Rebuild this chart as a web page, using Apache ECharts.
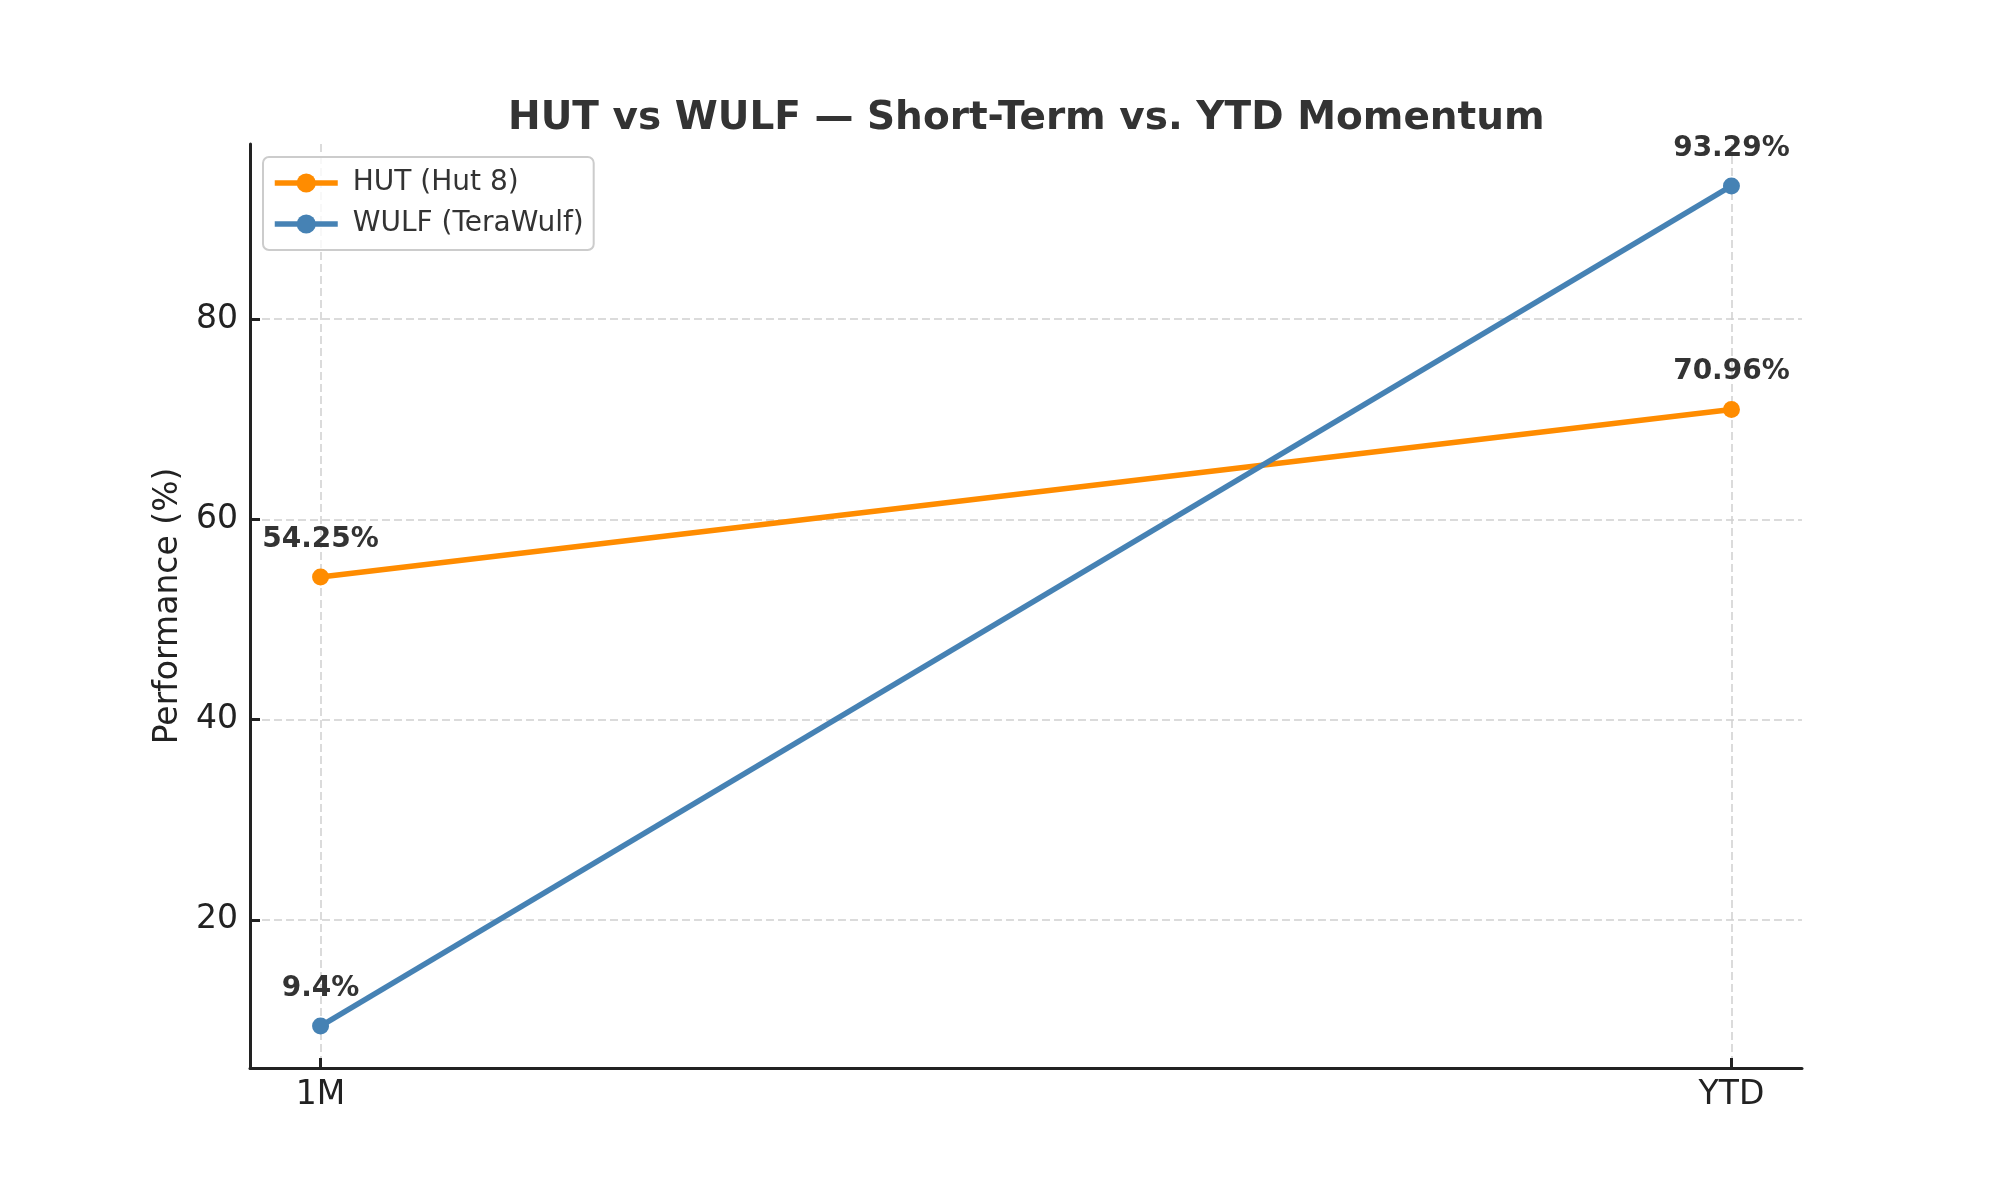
<!DOCTYPE html>
<html>
<head>
<meta charset="utf-8">
<script src="https://cdn.jsdelivr.net/npm/echarts@6/dist/echarts.min.js"></script>
<style>html,body{margin:0;padding:0;background:#fff;}#c{width:2000px;height:1200px;}</style>
</head>
<body>
<div id="c"></div>
<script>
const categories = ['1M', 'YTD'];
const hutValues = [54.25, 70.96];
const wulfValues = [9.4, 93.29];
const seriesNames = ['HUT (Hut 8)', 'WULF (TeraWulf)'];
const yTicks = [20, 40, 60, 80];
const xTicks = [0, 1];

const FONT = 'DejaVu Sans';
const chart = echarts.init(document.getElementById('c'), null, {renderer: 'canvas'});

function mkSeries(name, vals, color) {
  return {
    name: name,
    type: 'line',
    data: vals.map((v, i) => [i, v]),
    symbol: 'circle',
    symbolSize: 17,
    lineStyle: {color: color, width: 5.5},
    itemStyle: {color: color},
    label: {
      show: true, position: 'top', distance: 15,
      formatter: p => p.value[1] + '%',
      fontFamily: FONT, fontWeight: 'bold', fontSize: 28, color: '#333333'
    },
    emphasis: {disabled: true},
    animation: false
  };
}

chart.setOption({
  animation: false,
  backgroundColor: '#ffffff',
  title: {
    text: 'HUT vs WULF — Short-Term vs. YTD Momentum',
    left: 508, top: 99,
    padding: 0,
    textStyle: {fontFamily: FONT, fontWeight: 'bold', fontSize: 39, color: '#333333'}
  },
  legend: {
    left: 263, top: 157,
    orient: 'vertical',
    padding: [12, 10, 12, 9],
    itemGap: 13,
    itemWidth: 63, itemHeight: 24,
    borderColor: '#cccccc', borderWidth: 2, borderRadius: 6,
    backgroundColor: 'rgba(255,255,255,0.8)',
    lineStyle: {width: 5.5},
    textStyle: {fontFamily: FONT, fontSize: 28, color: '#333333', padding: [0, 0, 0, 10]},
    data: seriesNames
  },
  grid: {left: 250, right: 198, top: 144, bottom: 132, containLabel: false},
  xAxis: {
    type: 'value', min: -0.05, max: 1.05,
    axisLine: {show: true, onZero: false, lineStyle: {color: '#222222', width: 3}},
    axisTick: {show: true, inside: true, length: 10, customValues: xTicks, lineStyle: {color: '#222222', width: 3}},
    axisLabel: {customValues: xTicks, formatter: v => categories[Math.round(v)], margin: 11,
      fontFamily: FONT, fontSize: 33, color: '#222222'},
    splitLine: {show: true, lineStyle: {color: '#d0d0d0', width: 1.5, type: [8, 4]}}
  },
  yAxis: {
    type: 'value', min: 5.21, max: 97.48,
    name: 'Performance (%)', nameLocation: 'middle', nameGap: 64, nameRotate: 90,
    nameTextStyle: {fontFamily: FONT, fontSize: 33, color: '#222222'},
    axisLine: {show: true, onZero: false, lineStyle: {color: '#222222', width: 3}},
    axisTick: {show: true, inside: true, length: 10, customValues: yTicks, lineStyle: {color: '#222222', width: 3}},
    axisLabel: {customValues: yTicks, margin: 12, fontFamily: FONT, fontSize: 33, color: '#222222'},
    splitLine: {show: true, lineStyle: {color: '#d0d0d0', width: 1.5, type: [8, 4]}}
  },
  series: [
    mkSeries(seriesNames[0], hutValues, '#ff8c00'),
    mkSeries(seriesNames[1], wulfValues, '#4682b4')
  ]
});
</script>
</body>
</html>
